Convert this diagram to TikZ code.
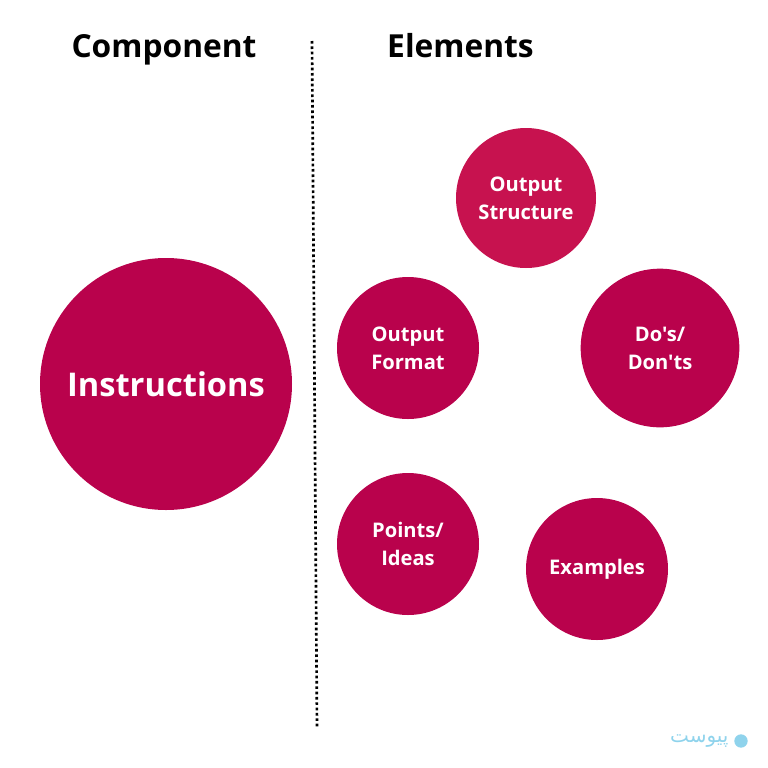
\documentclass[tikz,border=0pt]{standalone}
\usepackage{fontspec}
\usetikzlibrary{positioning}
\newfontfamily\plainsans{Open Sans}
\TeXXeTstate=1
\newfontfamily\arabicfont[Script=Arabic]{DejaVu Sans}
\definecolor{berry}{HTML}{B9024C}
\definecolor{berrylight}{HTML}{C7124F}
\definecolor{markblue}{HTML}{8FD3EC}
\tikzset{
	x=.75pt,y=-.75pt,
	heading/.style={anchor=base,font=\plainsans\fontsize{23.8}{27}\selectfont\bfseries,text=black},
	bubble/.style={circle,fill=berry,text=white,align=center,inner sep=0pt,font=\plainsans\fontsize{15.1}{21}\selectfont\bfseries},
}
\begin{document}
\begin{tikzpicture}
	\useasboundingbox (0,0) rectangle (768,768);
	\node[heading] (component) at (164,57) {Component};
	\node[heading] (elements) at (460.5,57) {Elements};
	\path (312,41) coordinate (T) (317,727) coordinate (E);
	\draw[line width=2pt,dash pattern=on 2pt off 2pt] (T)--(E);
	\node[bubble,minimum size=189pt,font=\plainsans\fontsize{24.5}{27}\selectfont\bfseries] (instructions) at (166,384) {Instructions};
	\node[bubble,fill=berrylight,minimum size=105pt] (structure) at (526,198) {Output\\Structure};
	\node[bubble,minimum size=106.5pt] (format) at (408,348) {Output\\Format};
	\node[bubble,minimum size=119pt] (dos) at (660,348) {Do's/\\Don'ts};
	\node[bubble,minimum size=106.5pt] (points) at (408,544) {Points/\\Ideas};
	\node[bubble,minimum size=106.5pt] (examples) at (597,569) {\raisebox{-.75pt}{Examples}};
	\node[circle,fill=markblue,minimum size=10pt,inner sep=0pt] (logo) at (741,741) {};
	\node[left=4pt of logo,text=markblue,font=\arabicfont\fontsize{15}{16}\selectfont,inner sep=0pt] (brand) {\beginR پیوست\endR};
\end{tikzpicture}
\end{document}
